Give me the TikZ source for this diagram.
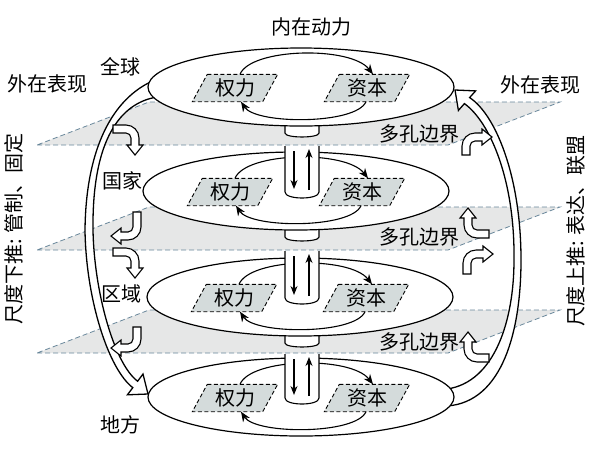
\documentclass[tikz,border=0pt]{standalone}
\usepackage{fontspec}
\newfontfamily\cjk{Noto Sans CJK SC}
\usetikzlibrary{shapes.geometric,patterns,arrows.meta,calc}
\definecolor{parafill}{RGB}{212,219,219}
\definecolor{planeline}{RGB}{105,135,155}
\definecolor{planegray}{RGB}{230,231,231}
\newcommand\bentarrow[1]{%
  \draw[bentstyle] (0,-4) -- (#1,-4) .. controls ({#1+7.18},-4) and ({#1+13},1.82) .. ({#1+13},9)
   -- ({#1+13},16) -- ({#1+17},16) -- ({#1+9},26) -- ({#1+1},16) -- ({#1+5},16) -- ({#1+5},9)
   .. controls ({#1+5},6.24) and ({#1+2.76},4) .. (#1,4) -- (0,4) -- cycle;}
\begin{document}
\begin{tikzpicture}[x=1pt,y=-1pt,
  lbl/.style={font=\cjk\fontsize{20}{22}\selectfont, inner sep=0pt},
  disk/.style={ellipse, draw, line width=1.2pt, fill=white, minimum width=306pt, minimum height=78pt, inner sep=0pt},
  boxslot/.style={minimum width=70pt, minimum height=27pt, inner sep=0pt},
  para/.style={draw, dash pattern=on 4pt off 2.5pt, line width=0.9pt, fill=parafill},
  planefill/.style={fill=planegray},
  planeedge/.style={draw=planeline, dash pattern=on 5pt off 3pt, line width=0.8pt},
  circarrow/.style={line width=1.1pt, -{Stealth[length=10pt,width=8pt]}},
  hollow/.style={draw, fill=white, line width=1.3pt, line join=miter},
  bentstyle/.style={draw, fill=white, line width=1.1pt, line join=miter},
  cyl/.style={draw, fill=white, line width=1.1pt},
  updown/.style={line width=1.1pt, -{Stealth[length=9pt,width=7pt]}},
]
\useasboundingbox (0,0) rectangle (599,451);
\fill[white] (0,0) rectangle (599,451);

% porous boundary planes
\foreach \f in {145,250,353}{
  \path[planefill] (37,\f) -- (448,\f) -- (560,{\f-43}) -- (149,{\f-43}) -- cycle;
  \path[planeedge] (37,\f) -- (448,\f) -- (560,{\f-43}) -- (149,{\f-43}) -- cycle;
}

% big hollow arrows (left: down, right: up)
\draw[hollow] (155,80) .. controls (118,95) and (86,140) .. (85,230)
  .. controls (86,300) and (108.8,369.6) .. (132.8,387.6)
  -- (127.4,394.8) -- (148,394) -- (143,374) -- (137.6,381.2)
  .. controls (113.6,363.2) and (94,290) .. (93,230)
  .. controls (92,140) and (120,103) .. (157,97) -- cycle;
\draw[hollow] (447,406) .. controls (503,402) and (521,330) .. (521,260)
  .. controls (521,175) and (495,114) .. (469.6,97.6)
  -- (475.6,90.9) -- (455,90) -- (458.4,110.4) -- (464.4,103.6)
  .. controls (490,122) and (515,180) .. (514,260)
  .. controls (514,320) and (495,382) .. (447,389) -- cycle;

% caps of the columns below layers 1-3
\foreach \cy in {87,191,297}{
  \draw[cyl] (285,{\cy+30}) -- (285,{\cy+46}) .. controls (285,{\cy+51.3}) and (319,{\cy+51.3}) .. (319,{\cy+46}) -- (319,{\cy+30});
}

% layers
\node[disk] (L1) at (301,87) {};
\node[disk] (L2) at (296,191) {};
\node[disk] (L3) at (300,297) {};
\node[disk] (L4) at (301,397) {};

\foreach \i/\cx/\cy in {1/301/87, 2/296/191, 3/300/297, 4/301/397}{
  \path node[boxslot] (p\i) at ({\cx-66},{\cy+1}) {} node[boxslot] (z\i) at ({\cx+66},{\cy+1}) {};
  \draw[para] ([xshift=7.5pt]p\i.north west) -- ([xshift=7.5pt]p\i.north east) -- ([xshift=-7.5pt]p\i.south east) -- ([xshift=-7.5pt]p\i.south west) -- cycle;
  \draw[para] ([xshift=7.5pt]z\i.north west) -- ([xshift=7.5pt]z\i.north east) -- ([xshift=-7.5pt]z\i.south east) -- ([xshift=-7.5pt]z\i.south west) -- cycle;
  \node[lbl] (pt\i) at (p\i) {权力};
  \node[lbl] (zt\i) at (z\i) {资本};
  \draw[circarrow] ([xshift=5pt]p\i.north) .. controls +(11,-26.5) and +(-22,-28.5) .. ([xshift=6pt]z\i.north);
  \draw[circarrow] ([xshift=-1pt]z\i.south) .. controls +(-10,23) and +(15,23) .. ([xshift=6pt]p\i.south);
}

% column bodies through the planes
\foreach \f/\cy in {145/191, 250/297, 353/397}{
  \draw[cyl] (285,{\f+1}) -- (285,{\cy+1}) .. controls (285,{\cy+9}) and (319,{\cy+9}) .. (319,{\cy+1}) -- (319,{\f+1});
  \draw[updown] (294,{\f+6}) -- (294,{\cy-2});
  \draw[updown] (309,{\cy-1}) -- (309,{\f+4});
}

% bent hollow arrows
\begin{scope}[shift={(113,129)}]\bentarrow{13}\end{scope}
\begin{scope}[shift={(113,252)}]\bentarrow{13}\end{scope}
\begin{scope}[shift={(137,212)},rotate=-90]\bentarrow{15}\end{scope}
\begin{scope}[shift={(137,327)},rotate=-90]\bentarrow{12}\end{scope}
\begin{scope}[shift={(466,155)},rotate=90]\bentarrow{9}\end{scope}
\begin{scope}[shift={(467,274)},rotate=90]\bentarrow{11}\end{scope}
\begin{scope}[shift={(489,234)},rotate=180]\bentarrow{12}\end{scope}
\begin{scope}[shift={(489,358)},rotate=180]\bentarrow{12}\end{scope}

% labels
\node[lbl] (top) at (311,27) {内在动力};
\node[lbl] (extL) at (47,84) {外在表现};
\node[lbl] (extR) at (540,85) {外在表现};
\node[lbl] (g) at (120,67) {全球};
\node[lbl] (n) at (122,181) {国家};
\node[lbl] (r) at (121,294) {区域};
\node[lbl] (l) at (120,425) {地方};
\node[lbl] (b1) at (419,134) {多孔边界};
\node[lbl] (b2) at (419,237) {多孔边界};
\node[lbl] (b3) at (419,342) {多孔边界};
\node[lbl, rotate=90] (sL) at (14,229) {尺度下推: 管制、固定};
\node[lbl, rotate=90] (sR) at (576,231) {尺度上推: 表达、联盟};
\end{tikzpicture}
\end{document}
